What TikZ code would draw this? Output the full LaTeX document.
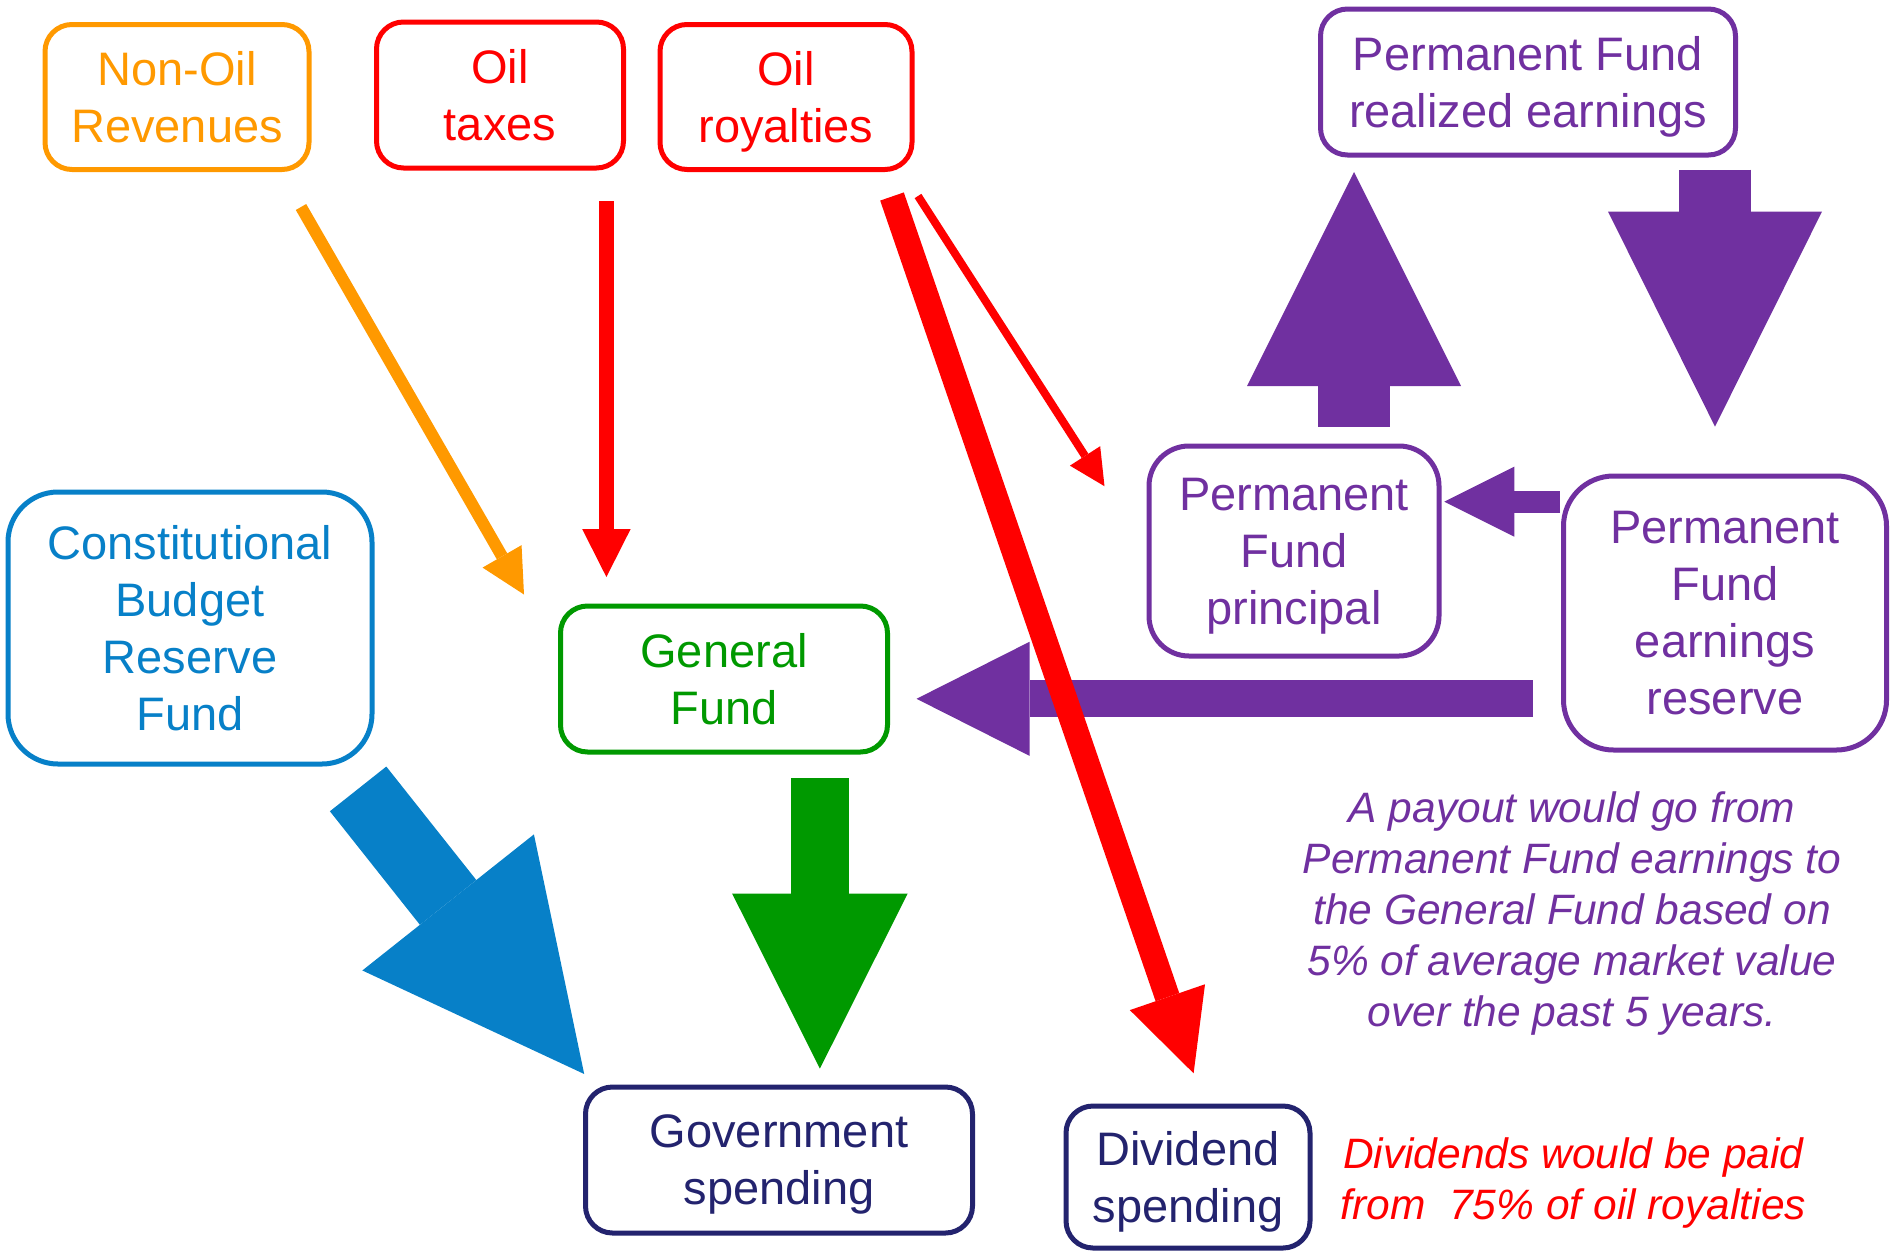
\documentclass[tikz,border=0pt]{standalone}
\usepackage{fontspec}
\setmainfont{Liberation Sans}
\usepackage{tikz}
\usetikzlibrary{arrows.meta,positioning}
\definecolor{oilorange}{HTML}{FF9900}
\definecolor{oilred}{HTML}{FF0000}
\definecolor{pfpurple}{HTML}{7030A0}
\definecolor{gfgreen}{HTML}{009900}
\definecolor{cbrfblue}{HTML}{0780C8}
\definecolor{spendnavy}{HTML}{23236E}
\tikzset{
    fund-box/.style = {draw=#1, text=#1, fill=white, line width=5pt, rectangle, rounded corners=27pt, align=center, inner sep=0pt, text depth=0pt, font=\fontsize{47}{57}\selectfont},
    note-text/.style = {text=#1, align=center, inner sep=0pt, font=\fontsize{42.5}{51}\selectfont\itshape},
    flow-arrow/.style n args = {4}{draw=#1, line width=#2, -{Triangle[length=#3, width=#4, line width=0pt]}},
}
\begin{document}
\begin{tikzpicture}[x=1pt, y=-1pt]
\useasboundingbox (0,0) rectangle (1893,1253);
\node [fund-box=oilorange, minimum width=264pt, minimum height=145pt] (nonoil) at (177,97) {Non-Oil\\Revenues};
\node [fund-box=oilred, minimum width=247pt, minimum height=146pt] (oiltax) at (500,95) {Oil\\taxes};
\node [fund-box=oilred, minimum width=252pt, minimum height=145pt] (oilroy) at (786,97) {Oil\\royalties};
\node [fund-box=pfpurple, minimum width=415pt, minimum height=146pt] (pfreal) at (1528,82) {Permanent Fund\\realized earnings};
\node [fund-box=cbrfblue, minimum width=364pt, minimum height=272pt, rounded corners=50pt] (cbrf) at (190,628) {Constitutional\\Budget\\Reserve\\Fund};
\node [fund-box=gfgreen, minimum width=327pt, minimum height=146pt] (genfund) at (724,679) {General\\Fund};
\node [fund-box=pfpurple, minimum width=290pt, minimum height=210pt, rounded corners=40pt] (pfprin) at (1294,551) {Permanent\\Fund\\principal};
\node [fund-box=pfpurple, minimum width=323pt, minimum height=274pt, rounded corners=50pt] (pfearn) at (1725,613) {Permanent\\Fund\\earnings\\reserve};
\node [fund-box=spendnavy, minimum width=387pt, minimum height=146pt] (govspend) at (779,1160) {Government\\spending};
\node [fund-box=spendnavy, minimum width=244pt, minimum height=142pt] (divspend) at (1188,1177) {Dividend\\spending};
\node [note-text=pfpurple] (payout) at (1572,913) {A payout would go from\\Permanent Fund earnings to\\the General Fund based on\\5\% of average market value\\over the past 5 years.};
\node [note-text=oilred, right=28pt of divspend, yshift=-6pt] (divnote) {Dividends would be paid\\from \ 75\% of oil royalties};
\coordinate (nonoil-out) at (301,207);
\coordinate (genfund-in-left) at (524,594.5);
\coordinate (oiltax-out) at (606.4,201);
\coordinate (genfund-in-top) at (606.4,577);
\coordinate (oilroy-out-div) at (892,196.5);
\coordinate (divspend-in) at (1193.6,1073.3);
\coordinate (oilroy-out-pf) at (918,196);
\coordinate (pfprin-in-top) at (1104.5,486.2);
\coordinate (pfprin-out) at (1354,426.6);
\coordinate (pfreal-in) at (1354,172);
\coordinate (pfreal-out) at (1715,169.7);
\coordinate (pfearn-in) at (1715,426.6);
\coordinate (pfearn-out-pf) at (1560,501.7);
\coordinate (pfprin-in-right) at (1444.3,501.7);
\coordinate (pfearn-out-gf) at (1533,698.8);
\coordinate (genfund-in-right) at (916.5,698.8);
\coordinate (genfund-out) at (819.9,778.3);
\coordinate (govspend-in-top) at (819.9,1068.6);
\coordinate (cbrf-out) at (358.1,788.9);
\coordinate (govspend-in-left) at (584.2,1074);
\draw [flow-arrow={oilorange}{12pt}{44pt}{45pt}] (nonoil-out) -- (genfund-in-left);
\draw [flow-arrow={oilred}{15pt}{48pt}{48.5pt}] (oiltax-out) -- (genfund-in-top);
\draw [flow-arrow={oilred}{8pt}{36pt}{36pt}] (oilroy-out-pf) -- (pfprin-in-top);
\draw [flow-arrow={pfpurple}{72pt}{214pt}{214pt}] (pfprin-out) -- (pfreal-in);
\draw [flow-arrow={pfpurple}{72pt}{215pt}{214pt}] (pfreal-out) -- (pfearn-in);
\draw [flow-arrow={pfpurple}{22pt}{70pt}{70pt}] (pfearn-out-pf) -- (pfprin-in-right);
\draw [flow-arrow={pfpurple}{37pt}{113pt}{114pt}] (pfearn-out-gf) -- (genfund-in-right);
\draw [flow-arrow={gfgreen}{58pt}{175pt}{175.5pt}] (genfund-out) -- (govspend-in-top);
\draw [flow-arrow={cbrfblue}{72pt}{219pt}{219pt}] (cbrf-out) -- (govspend-in-left);
\draw [flow-arrow={oilred}{25pt}{80.5pt}{79.5pt}] (oilroy-out-div) -- (divspend-in);
\end{tikzpicture}
\end{document}
